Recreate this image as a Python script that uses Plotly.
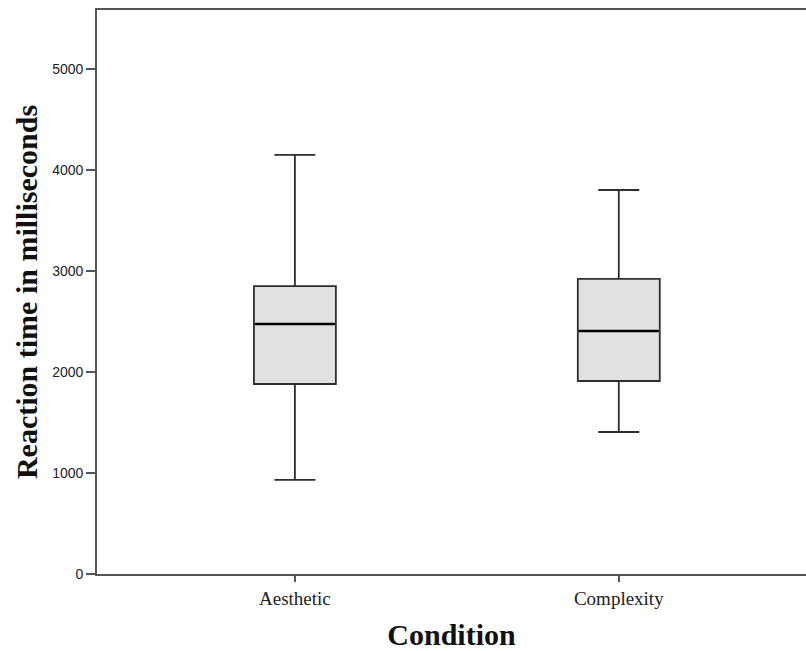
import plotly.graph_objects as go

conditions = ["Aesthetic", "Complexity"]
lower_whisker = [931, 1406]
q1_values = [1881, 1911]
medians = [2475, 2406]
q3_values = [2851, 2921]
upper_whisker = [4149, 3802]

y_ticks = [0, 1000, 2000, 3000, 4000, 5000]

fig = go.Figure()
fig.add_trace(go.Box(
    x=conditions,
    q1=q1_values, median=medians, q3=q3_values,
    lowerfence=lower_whisker, upperfence=upper_whisker,
    fillcolor="#e1e1e1",
    line=dict(color="#2e2e2e", width=1.8),
    width=0.253, whiskerwidth=0.5,
    boxpoints=False, showlegend=False, hoverinfo="skip",
))
# thicker median line
fig.add_trace(go.Box(
    x=conditions,
    q1=medians, median=medians, q3=medians,
    lowerfence=medians, upperfence=medians,
    fillcolor="rgba(0,0,0,0)",
    line=dict(color="#000000", width=2.6),
    width=0.245, whiskerwidth=0,
    boxpoints=False, showlegend=False, hoverinfo="skip",
))

fig.update_layout(
    width=806, height=651,
    margin=dict(l=97, r=0, t=10, b=77),
    paper_bgcolor="white", plot_bgcolor="white",
    boxmode="overlay",
    font=dict(family="Liberation Serif", color="#000"),
    xaxis=dict(
        range=[-0.611, 1.578],
        showline=True, linecolor="#555", linewidth=1.6, mirror=True,
        ticks="outside", ticklen=6, tickcolor="#555", tickwidth=1.5,
        showgrid=False, zeroline=False,
        tickfont=dict(family="Liberation Serif", size=19, color="#222"),
        title=dict(text="<b>Condition</b>", font=dict(family="Liberation Serif", size=30, color="#111"), standoff=16),
    ),
    yaxis=dict(
        range=[0, 5584],
        tickvals=y_ticks,
        showline=True, linecolor="#555", linewidth=1.6, mirror=False,
        ticks="outside", ticklen=9, tickcolor="#555", tickwidth=1.5,
        showgrid=False, zeroline=False,
        tickfont=dict(family="Liberation Sans", size=14, color="#222"),
        title=dict(text="<b>Reaction time in milliseconds</b>", font=dict(family="Liberation Serif", size=30, color="#111"), standoff=6),
    ),
)

fig.write_html("out.html")
